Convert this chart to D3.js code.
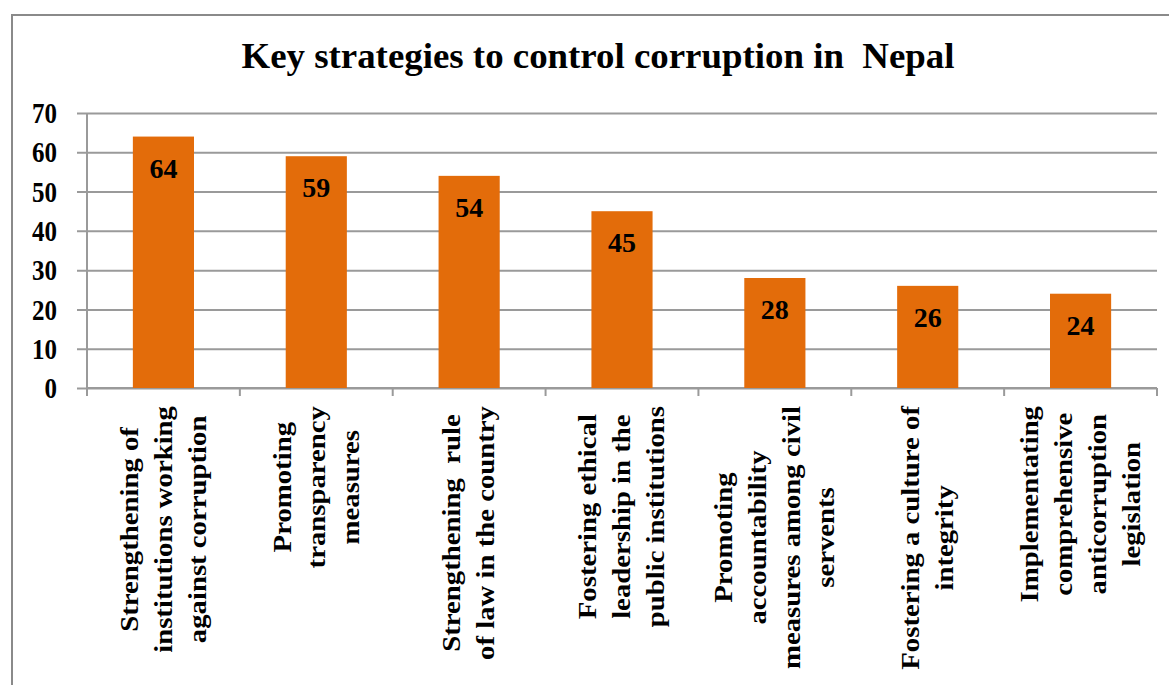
<!DOCTYPE html>
<html>
<head>
<meta charset="utf-8">
<script src="https://cdn.jsdelivr.net/npm/d3@7"></script>
<style>
  html, body { margin: 0; padding: 0; background: #fff; }
  svg { display: block; }
  text { font-family: "Liberation Serif", "Times New Roman", serif; font-weight: bold; fill: #000; }
</style>
</head>
<body>
<svg id="chart" width="1169" height="685"></svg>
<script>
const title = "Key strategies to control corruption in  Nepal";
const categories = [
  ["Strengthening of", "institutions working", "against corruption"],
  ["Promoting", "transparency", "measures"],
  ["Strengthening  rule", "of law in the country"],
  ["Fostering ethical", "leadership in the", "public institutions"],
  ["Promoting", "accountability", "measures among civil", "servents"],
  ["Fostering a culture of", "integrity"],
  ["Implementating", "comprehensive", "anticorruption", "legislation"]
];
const values = [64, 59, 54, 45, 28, 26, 24];
const yTicks = [0, 10, 20, 30, 40, 50, 60, 70];

const W = 1169, H = 685;
const plot = { left: 87, right: 1157, top: 113, bottom: 388 };
const barColor = "#E36C0A";
const gridColor = "#9a9a9a";

const svg = d3.select("#chart");

// outer frame
svg.append("path")
  .attr("d", `M12,${H} L12,15 L${W},15`)
  .attr("fill", "none").attr("stroke", "#8a8a8a").attr("stroke-width", 2);

// title
svg.append("text")
  .attr("x", 598).attr("y", 68)
  .attr("text-anchor", "middle")
  .attr("font-size", 36)
  .attr("textLength", 713).attr("lengthAdjust", "spacingAndGlyphs")
  .style("white-space", "pre")
  .text(title);

const x = d3.scaleBand()
  .domain(d3.range(values.length))
  .range([plot.left, plot.right])
  .paddingInner(0.6).paddingOuter(0.3);

const y = d3.scaleLinear().domain([0, 70]).range([plot.bottom, plot.top]);

// y axis with gridlines
const yAxis = d3.axisLeft(y)
  .tickValues(yTicks)
  .tickSize(-(plot.right - plot.left + 10))
  .tickPadding(20)
  .tickFormat(d3.format("d"));

const gy = svg.append("g")
  .attr("transform", `translate(${plot.left - 10},0)`)
  .call(yAxis);
gy.select(".domain").remove();
gy.selectAll(".tick line").attr("stroke", gridColor).attr("stroke-width", 2);
gy.selectAll(".tick text")
  .attr("font-size", 25)
  .attr("font-family", null)
  .attr("fill", "#000")
  .attr("dy", null)
  .attr("dominant-baseline", "central")
  .attr("transform", function() { return null; })
  .each(function() {
    const t = d3.select(this);
    const yy = 0;
    t.attr("transform", `translate(0,${yy}) scale(1,1.15)`);
  });

// vertical axis line
svg.append("line")
  .attr("x1", plot.left).attr("x2", plot.left)
  .attr("y1", y(70)).attr("y2", y(0) + 8)
  .attr("stroke", gridColor).attr("stroke-width", 2);

// bottom axis line + category tick marks at band boundaries
svg.append("line")
  .attr("x1", plot.left).attr("x2", plot.right)
  .attr("y1", y(0)).attr("y2", y(0))
  .attr("stroke", gridColor).attr("stroke-width", 2);
const bounds = d3.range(values.length + 1).map(i => plot.left + i * x.step());
svg.append("g").selectAll("line").data(bounds).join("line")
  .attr("x1", d => d).attr("x2", d => d)
  .attr("y1", y(0)).attr("y2", y(0) + 8)
  .attr("stroke", gridColor).attr("stroke-width", 2);

// bars
svg.append("g").selectAll("rect").data(values).join("rect")
  .attr("x", (d, i) => x(i))
  .attr("width", x.bandwidth())
  .attr("y", d => y(d))
  .attr("height", d => y(0) - y(d))
  .attr("fill", barColor);

// value labels
svg.append("g").selectAll("text").data(values).join("text")
  .attr("x", (d, i) => x(i) + x.bandwidth() / 2)
  .attr("y", d => y(d) + 41)
  .attr("text-anchor", "middle")
  .attr("font-size", 28)
  .text(d => d);

// category labels (rotated, multi-line, centred block hanging from axis)
const labelTop = y(0) + 18;
const lineGap = 34;
const lg = svg.append("g");
categories.forEach((lines, i) => {
  const cx = x(i) + x.bandwidth() / 2;
  const g = lg.append("g");
  const texts = lines.map((ln, j) => {
    return g.append("text")
      .attr("font-size", 25)
      .attr("text-anchor", "middle")
      .attr("dominant-baseline", "central")
      .style("white-space", "pre")
      .text(ln);
  });
  const sx = 1.15;
  const maxLen = d3.max(texts, t => t.node().getComputedTextLength()) * sx;
  const cy = labelTop + maxLen / 2;
  texts.forEach((t, j) => {
    const lx = cx + (j - (lines.length - 1) / 2) * lineGap;
    t.attr("transform", `translate(${lx},${cy}) rotate(-90) scale(${sx},1)`);
  });
});
</script>
</body>
</html>
